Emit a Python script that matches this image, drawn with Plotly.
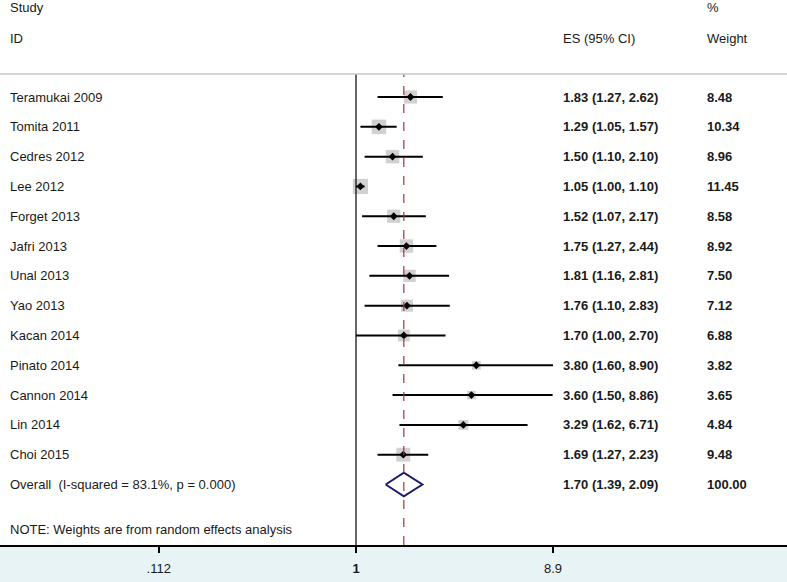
import numpy as np
import plotly.graph_objects as go

# study data
studies = ['Teramukai 2009', 'Tomita 2011', 'Cedres 2012', 'Lee 2012', 'Forget 2013',
           'Jafri 2013', 'Unal 2013', 'Yao 2013', 'Kacan 2014', 'Pinato 2014',
           'Cannon 2014', 'Lin 2014', 'Choi 2015']
es = [1.83, 1.29, 1.50, 1.05, 1.52, 1.75, 1.81, 1.76, 1.70, 3.80, 3.60, 3.29, 1.69]
lo = [1.27, 1.05, 1.10, 1.00, 1.07, 1.27, 1.16, 1.10, 1.00, 1.60, 1.50, 1.62, 1.27]
hi = [2.62, 1.57, 2.10, 1.10, 2.17, 2.44, 2.81, 2.83, 2.70, 8.90, 8.86, 6.71, 2.23]
weights = [8.48, 10.34, 8.96, 11.45, 8.58, 8.92, 7.50, 7.12, 6.88, 3.82, 3.65, 4.84, 9.48]

overall_label = 'Overall&nbsp; (I-squared = 83.1%, p = 0.000)'
overall_es, overall_lo, overall_hi = 1.70, 1.39, 2.09

tick_vals = [0.112, 1, 8.9]
tick_text = ['.112', '<b>1</b>', '8.9']

W, H = 787, 582
FONT = 'Liberation Sans, Arial, sans-serif'

rows = np.arange(len(studies))
overall_row = len(studies)

fig = go.Figure()

# weight boxes
fig.add_trace(go.Scatter(x=es, y=rows, mode='markers',
                         marker=dict(symbol='square', color='#bdbdbd',
                                     size=[4.5 * np.sqrt(w) for w in weights], line=dict(width=0)),
                         hoverinfo='skip'))

# confidence intervals
ci_x, ci_y = [], []
for r, a, b in zip(rows, lo, hi):
    ci_x += [a, b, None]
    ci_y += [r, r, None]
fig.add_trace(go.Scatter(x=ci_x, y=ci_y, mode='lines', line=dict(color='black', width=2),
                         hoverinfo='skip'))

# point estimates
fig.add_trace(go.Scatter(x=es, y=rows, mode='markers',
                         marker=dict(symbol='diamond', color='black', size=6),
                         hoverinfo='skip'))

# overall diamond
fig.add_trace(go.Scatter(x=[overall_lo, overall_es, overall_hi, overall_es, overall_lo],
                         y=[overall_row, overall_row - 0.4, overall_row, overall_row + 0.4, overall_row],
                         mode='lines', line=dict(color='#1c1c6e', width=2), hoverinfo='skip'))

# reference lines
y_top = -0.77
fig.add_shape(type='line', xref='x', yref='paper', x0=1, x1=1, y0=0, y1=1,
              line=dict(color='black', width=1.2))
fig.add_shape(type='line', xref='x', yref='paper', x0=overall_es, x1=overall_es, y0=0, y1=1,
              line=dict(color='#a8323a', width=1.2, dash='dash'))
# cover above header line for the vertical lines
fig.add_shape(type='rect', xref='paper', yref='y', x0=0, x1=1, y0=-3.6, y1=y_top,
              fillcolor='white', line=dict(width=0), layer='above')
fig.add_shape(type='line', xref='paper', yref='y', x0=0, x1=1, y0=y_top, y1=y_top,
              line=dict(color='#c8c8c8', width=1.5), layer='above')

x_study = 8 / W
x_es = 561 / W
x_wt = 705 / W


def label(x, y, text, bold=False):
    fig.add_annotation(x=x, y=y, xref='paper', yref='y', text=f'<b>{text}</b>' if bold else text,
                       showarrow=False, xanchor='left', yanchor='middle',
                       font=dict(family=FONT, size=13, color='#1a1a1a'))


# headers
label(x_study, -3.0, 'Study')
label(x_study, -1.98, 'ID')
label(x_es, -1.98, 'ES (95% CI)')
label(x_wt, -3.0, '%')
label(x_wt, -1.98, 'Weight')

for r, s, e, a, b, w in zip(rows, studies, es, lo, hi, weights):
    label(x_study, r, s)
    label(x_es, r, f'{e:.2f} ({a:.2f}, {b:.2f})', bold=True)
    label(x_wt, r, f'{w:.2f}', bold=True)

label(x_study, overall_row, overall_label)
label(x_es, overall_row, f'{overall_es:.2f} ({overall_lo:.2f}, {overall_hi:.2f})', bold=True)
label(x_wt, overall_row, '100.00', bold=True)
label(x_study, 14.5, 'NOTE: Weights are from random effects analysis')

# log axis scaled so that 1 sits at x=356 px, 207.5 px per decade
px_per_dec = 207.5
x_lo = -356 / px_per_dec
x_hi = (W - 356) / px_per_dec

fig.update_xaxes(type='log', range=[x_lo, x_hi], tickvals=tick_vals, ticktext=tick_text,
                 showgrid=False, zeroline=False, showline=True, linecolor='black', linewidth=1.5,
                 ticks='outside', ticklen=6, tickwidth=1.5, tickcolor='black',
                 ticklabelstandoff=5,
                 tickfont=dict(family=FONT, size=13, color='#1a1a1a'))
fig.update_yaxes(range=[15.03, -3.255], showgrid=False, zeroline=False, showticklabels=False,
                 showline=False)

fig.update_layout(width=W, height=H, margin=dict(l=0, r=0, t=0, b=37),
                  plot_bgcolor='white', paper_bgcolor='#e8f3f5', showlegend=False)

# page body has a default 8px margin; remove it so the figure fills the window
fig.write_html('out.html', config={'displayModeBar': False},
               post_script="document.body.style.margin='0';")
